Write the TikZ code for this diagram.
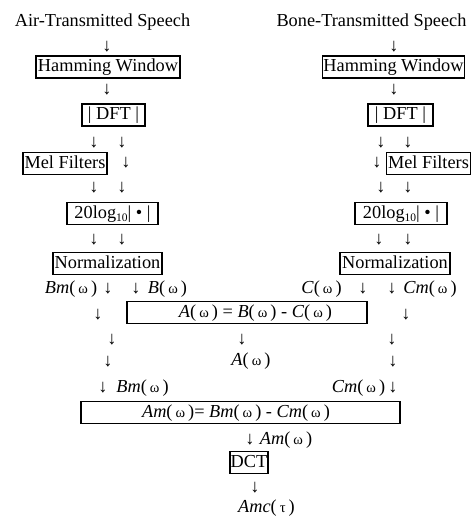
\documentclass[tikz,border=0pt]{standalone}
\usepackage{fontspec}
\setmainfont{Liberation Serif}
\newcommand\fsz{\fontsize{18.3}{20}\selectfont}
\newcommand\myomega{{\fontsize{14.5}{14.5}\selectfont ω}}
\newcommand\mytau{{\fontsize{14.5}{14.5}\selectfont τ}}
\newcommand\fn[1]{\textit{#1}(\,\myomega\,)}
\begin{document}
\begin{tikzpicture}[x=1pt,y=-1pt,
  lbl/.style={font=\fsz, inner sep=0pt},
  dn/.style={font=\fsz, inner sep=0pt},
  box/.style={draw, line width=1.9pt, font=\fsz, inner xsep=1pt, inner ysep=2.5pt, text height=13pt, text depth=4pt}]
\useasboundingbox (0,0) rectangle (473,520);
% left column
\node[lbl] (t1) at (102.5,22) {Air-Transmitted Speech};
\node[dn] (l1) at (107,47) {↓};
\node[box, minimum width=144pt] (hw1) at (108,67) {Hamming Window};
\node[dn] (l2) at (107,90) {↓};
\node[box, minimum width=63pt] (dft1) at (113.5,115) {| DFT |};
\node[dn] (l3) at (94,143) {↓};
\node[dn] (l4) at (122,143) {↓};
\node[box, minimum width=84pt] (mel1) at (65,163.5) {Mel Filters};
\node[dn] (l5) at (126,163) {↓};
\node[dn] (l6) at (94,188) {↓};
\node[dn] (l7) at (122,188) {↓};
\node[box, minimum width=91pt] (log1) at (112.5,213.5) {20log\raisebox{-3pt}{\fontsize{11.5}{11.5}\selectfont 10}| • |};
\node[dn] (l8) at (94,240) {↓};
\node[dn] (l9) at (122,240) {↓};
\node[box, minimum width=109pt] (norm1) at (107.5,263.5) {Normalization};
\node[lbl] (bm1) at (71,289) {\fn{Bm}};
\node[dn] (l10) at (108,289) {↓};
\node[dn] (l11) at (136,289) {↓};
\node[lbl] (b1) at (167.5,289) {\fn{B}};
\node[dn] (l12) at (98,315) {↓};
\node[dn] (l13) at (112,340) {↓};
\node[dn] (l14) at (108,362) {↓};
\node[dn] (l15) at (103,388) {↓};
\node[lbl] (bm2) at (142.5,388) {\fn{Bm}};
% right column
\node[lbl] (t2) at (371.5,22) {Bone-Transmitted Speech};
\node[dn] (r1) at (394,47) {↓};
\node[box, minimum width=141pt] (hw2) at (393.5,67) {Hamming Window};
\node[dn] (r2) at (394,90) {↓};
\node[box, minimum width=65pt] (dft2) at (400.5,115) {| DFT |};
\node[dn] (r3) at (381,143) {↓};
\node[dn] (r4) at (408,143) {↓};
\node[dn] (r5) at (377,163) {↓};
\node[box, minimum width=84pt] (mel2) at (428.5,163.5) {Mel Filters};
\node[dn] (r6) at (381,188) {↓};
\node[dn] (r7) at (408,188) {↓};
\node[box, minimum width=92pt] (log2) at (401,213.5) {20log\raisebox{-3pt}{\fontsize{11.5}{11.5}\selectfont 10}| • |};
\node[dn] (r8) at (379,240) {↓};
\node[dn] (r9) at (408,240) {↓};
\node[box, minimum width=110pt] (norm2) at (395,263.5) {Normalization};
\node[lbl] (c1) at (321.5,289) {\fn{C}};
\node[dn] (r10) at (363,289) {↓};
\node[dn] (r11) at (392,289) {↓};
\node[lbl] (cm1) at (430,289) {\fn{Cm}};
\node[dn] (r12) at (406,315) {↓};
\node[dn] (r13) at (392,340) {↓};
\node[dn] (r14) at (393,362) {↓};
\node[lbl] (cm2) at (358.5,388) {\fn{Cm}};
\node[dn] (r15) at (393,388) {↓};
% middle
\node[box, minimum width=240pt] (abox) at (247,312.5) {\hspace*{17pt}\fn{A} = \fn{B} - \fn{C}};
\node[dn] (m1) at (242,340) {↓};
\node[lbl] (a1) at (251,361) {\fn{A}};
\node[box, minimum width=319pt] (ambox) at (240.5,412.5) {\fn{Am}= \fn{Bm} - \fn{Cm}\hspace*{9pt}};
\node[dn] (m2) at (250,440) {↓};
\node[lbl] (am1) at (286,440) {\fn{Am}};
\node[box, minimum width=38pt] (dct) at (249,462.5) {DCT};
\node[dn] (m3) at (255,488) {↓};
\node[lbl] (amc) at (266.5,508) {\textit{Amc}(\,\mytau\,)};
\end{tikzpicture}
\end{document}
